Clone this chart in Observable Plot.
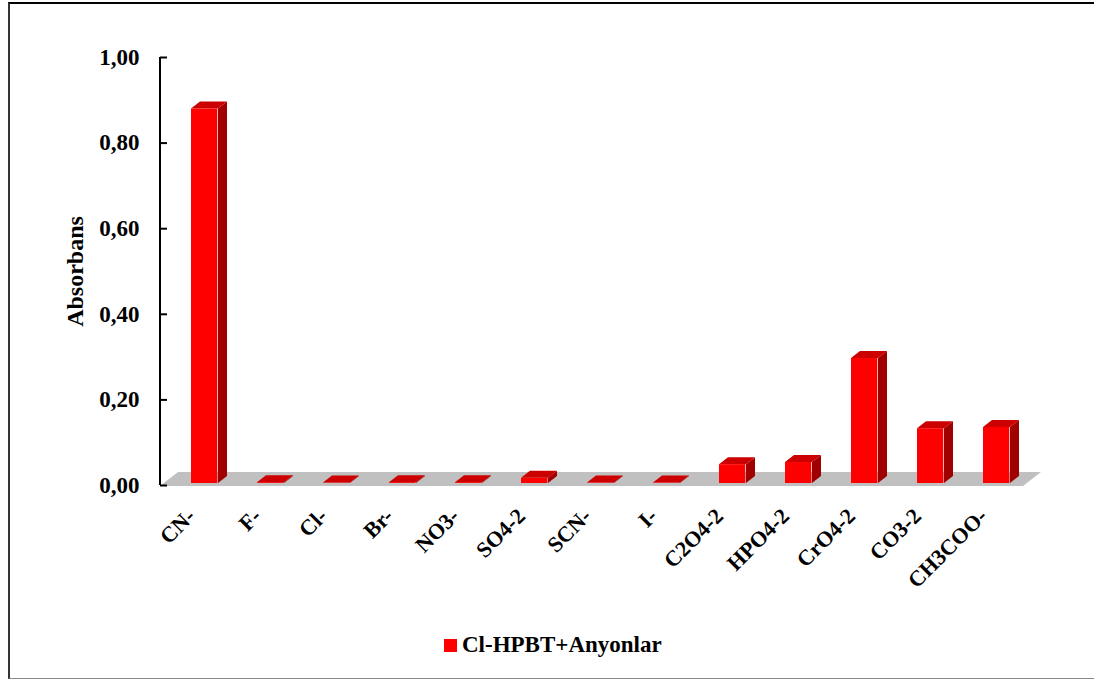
<!DOCTYPE html>
<html>
<head>
<meta charset="utf-8">
<script src="https://cdn.jsdelivr.net/npm/d3@7"></script>
<script src="https://cdn.jsdelivr.net/npm/@observablehq/plot@0.6"></script>
<style>
  body { margin: 0; background: #fff; }
  #wrap { position: relative; width: 1094px; height: 683px; overflow: hidden; font-family: "Liberation Serif", "Times New Roman", serif; }
  #border { position: absolute; left: 8px; top: 2px; width: 1100px; height: 677px; border-left: 2px solid #333; border-top: 2px solid #000; border-bottom: 1px solid #888; box-sizing: border-box; }
  #chart { position: absolute; left: 0; top: 0; }
  #legend { position: absolute; left: 444px; top: 632px; display: flex; align-items: center; font-weight: bold; font-size: 23px; color: #000; }
  #legend .sw { width: 13px; height: 13px; background: #ff0000; margin-right: 5px; }
</style>
</head>
<body>
<div id="wrap">
  <div id="border"></div>
  <div id="chart"></div>
  <div id="legend"></div>
</div>
<script>
const categories = ["CN-", "F-", "Cl-", "Br-", "NO3-", "SO4-2", "SCN-", "I-", "C2O4-2", "HPO4-2", "CrO4-2", "CO3-2", "CH3COO-"];
const absorbans = [0.875, 0.002, 0.001, 0.002, 0.002, 0.012, 0.001, 0.001, 0.044, 0.049, 0.292, 0.128, 0.131];
const yTicks = [0, 0.2, 0.4, 0.6, 0.8, 1.0];
const yLabel = "Absorbans";
const seriesName = "Cl-HPBT+Anyonlar";

const data = categories.map((c, i) => ({anion: c, value: absorbans[i]}));
const fmt = d => d.toFixed(2).replace(".", ",");

const W = 1094, H = 620;
const mL = 160, mR = 67, mT = 57, mB = 135;
const step = (W - mL - mR) / categories.length;
const barInsetL = 26, barW = 27;
const lift = 2;           // bar front sits slightly behind floor front
const depthX = 9, depthY = 7;   // bar 3D depth
const floorX = 18, floorY = 14; // floor depth

function floorMark(index, scales, values, dims) {
  const x0 = dims.marginLeft, x1 = dims.width - dims.marginRight;
  const y0 = scales.y(0) + 1;
  const g = d3.create("svg:g");
  g.append("path")
    .attr("d", `M${x0},${y0}L${x1 - 4},${y0}L${x1 - 4 + floorX},${y0 - floorY}L${x0 + floorX},${y0 - floorY}Z`)
    .attr("fill", "#c0c0c0");
  return g.node();
}

function depthMark(index, scales, values, dims) {
  const g = d3.create("svg:g");
  for (const d of data) {
    const xl = scales.x(d.anion) + barInsetL;
    const xr = xl + barW;
    const yb = scales.y(0) - lift;
    const yt = scales.y(d.value) - lift;
    g.append("path")
      .attr("d", `M${xr},${yt}L${xr + depthX},${yt - depthY}L${xr + depthX},${yb - depthY}L${xr},${yb}Z`)
      .attr("fill", "#a00000");
    g.append("path")
      .attr("d", `M${xl},${yt}L${xl + depthX},${yt - depthY}L${xr + depthX},${yt - depthY}L${xr},${yt}Z`)
      .attr("fill", "#cc0000");
  }
  return g.node();
}

function axisLine(index, scales, values, dims) {
  const x0 = dims.marginLeft;
  return d3.create("svg:line")
    .attr("x1", x0).attr("x2", x0)
    .attr("y1", scales.y(1)).attr("y2", scales.y(0))
    .attr("stroke", "#000").attr("stroke-width", 2).node();
}

const chart = Plot.plot({
  width: W, height: H,
  marginLeft: mL, marginRight: mR, marginTop: mT, marginBottom: mB,
  style: {fontFamily: "'Liberation Serif', 'Times New Roman', serif", background: "transparent", color: "#000"},
  x: {type: "band", domain: categories, padding: 0, axis: null},
  y: {domain: [0, 1], axis: null},
  marks: [
    floorMark,
    depthMark,
    Plot.barY(data, {x: "anion", y: "value", fill: "#ff0000", insetLeft: barInsetL, insetRight: step - barInsetL - barW, dy: -lift}),
    axisLine,
    Plot.axisY({ticks: yTicks, tickFormat: fmt, tickSize: -7, tickPadding: 28, strokeWidth: 2, fontSize: 23, fontWeight: "bold", label: null}),
    Plot.text([yLabel], {frameAnchor: "left", textAnchor: "middle", rotate: -90, dx: -85, fontSize: 24, fontWeight: "bold"}),
    Plot.text(categories, {x: d => d, frameAnchor: "bottom", rotate: -45, textAnchor: "end", dx: -2, dy: 32, fontSize: 22, fontWeight: "bold"})
  ]
});
document.getElementById("chart").appendChild(chart);

const lg = document.getElementById("legend");
const sw = document.createElement("span"); sw.className = "sw";
const tx = document.createElement("span"); tx.textContent = seriesName;
lg.appendChild(sw); lg.appendChild(tx);
</script>
</body>
</html>
